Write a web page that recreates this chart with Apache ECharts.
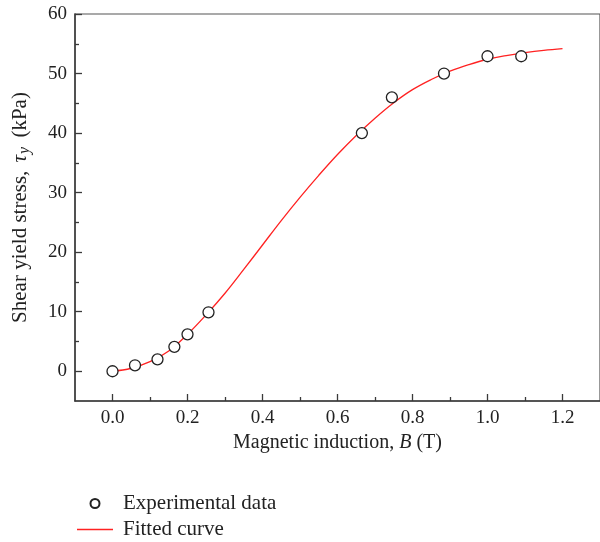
<!DOCTYPE html>
<html>
<head>
<meta charset="utf-8">
<script src="https://cdn.jsdelivr.net/npm/echarts@6/dist/echarts.min.js"></script>
<style>
  html, body { margin: 0; padding: 0; background: #fff; }
  #chart { width: 600px; height: 542px; }
</style>
</head>
<body>
<div id="chart"></div>
<script>
// Measured shear yield stress versus magnetic induction
var measuredB = [0.0, 0.06, 0.12, 0.165, 0.2, 0.256, 0.665, 0.745, 0.884, 1.0, 1.09];
var measuredTau = [0.0, 1.0, 2.0, 4.1, 6.2, 9.9, 40.0, 46.0, 50.0, 52.9, 52.9];

// Fitted curve sampled along B
var fitB = [0.0, 0.05, 0.1, 0.15, 0.2, 0.25, 0.3, 0.35, 0.4, 0.45, 0.5, 0.55, 0.6,
            0.65, 0.7, 0.75, 0.8, 0.85, 0.9, 0.95, 1.0, 1.05, 1.1, 1.15, 1.2];
var fitTau = [0.0, 0.5, 1.6, 3.4, 6.2, 9.5, 13.1, 17.1, 21.2, 25.3, 29.2, 32.9, 36.4,
              39.6, 42.5, 45.1, 47.3, 49.0, 50.4, 51.5, 52.4, 53.0, 53.5, 53.9, 54.2];

// Tick positions
var xMajorTicks = [0.0, 0.2, 0.4, 0.6, 0.8, 1.0, 1.2];
var xMinorTicks = [0.1, 0.3, 0.5, 0.7, 0.9, 1.1];
var yMajorTicks = [0, 10, 20, 30, 40, 50, 60];
var yMinorTicks = [5, 15, 25, 35, 45, 55];

var seriesNames = ['Experimental data', 'Fitted curve'];

var FONT = 'Liberation Serif';
var INK = '#222';
var AXIS = '#3a3a3a';
var CURVE = '#f22';

function pairs(xs, ys) {
  return xs.map(function (x, i) { return [x, ys[i]]; });
}

var chart = echarts.init(document.getElementById('chart'), null, { renderer: 'canvas' });

var option = {
  animation: false,
  backgroundColor: '#fff',
  textStyle: { fontFamily: FONT, color: INK },
  grid: {
    left: 75, top: 14, width: 529, height: 387,
    show: true, borderColor: '#555', borderWidth: 1.2, backgroundColor: 'transparent'
  },
  legend: {
    data: [
      { name: seriesNames[0], icon: 'circle' },
      { name: seriesNames[1], icon: 'path://M0,0 L36,0 L36,1.3 L0,1.3 Z' }
    ],
    orient: 'vertical',
    left: 77, top: 493, padding: 0,
    itemWidth: 36, itemHeight: 9, itemGap: 5,
    symbolKeepAspect: true,
    textStyle: { fontFamily: FONT, fontSize: 21, color: INK, lineHeight: 21, padding: [0, 0, 0, 5] }
  },
  xAxis: [{
    type: 'value', min: -0.1, max: 1.3,
    name: '{n|Magnetic induction, }{i|B}{n| (T)}',
    nameLocation: 'middle', nameGap: 16,
    nameTextStyle: {
      rich: {
        n: { fontFamily: FONT, fontSize: 20, color: INK },
        i: { fontFamily: FONT, fontSize: 20, color: INK, fontStyle: 'italic' }
      }
    },
    axisLine: { show: true, onZero: false, lineStyle: { color: AXIS, width: 1.5 } },
    axisTick: { show: true, inside: true, length: 7, customValues: xMajorTicks, lineStyle: { color: AXIS, width: 1.3 } },
    axisLabel: {
      show: true, margin: 8, customValues: xMajorTicks,
      fontFamily: FONT, fontSize: 19, color: INK,
      formatter: function (v) { return v.toFixed(1); }
    },
    splitLine: { show: false }
  }, {
    type: 'value', min: -0.1, max: 1.3, position: 'bottom',
    axisLine: { show: false, onZero: false },
    axisTick: { show: true, inside: true, length: 4, customValues: xMinorTicks, lineStyle: { color: AXIS, width: 1.3 } },
    axisLabel: { show: false },
    splitLine: { show: false }
  }],
  yAxis: [{
    type: 'value', min: -5, max: 60,
    name: '{n|Shear yield stress, }{i|τ}{s|y}{n| (kPa)}',
    nameLocation: 'middle', nameGap: 42, nameRotate: 90,
    nameTextStyle: {
      rich: {
        n: { fontFamily: FONT, fontSize: 21, color: INK },
        i: { fontFamily: FONT, fontSize: 21, color: INK, fontStyle: 'italic', padding: [0, 0, 0, 3] },
        s: { fontFamily: FONT, fontSize: 16, color: INK, fontStyle: 'italic', padding: [10, 4, 0, 1] }
      }
    },
    axisLine: { show: true, onZero: false, lineStyle: { color: AXIS, width: 1.5 } },
    axisTick: { show: true, inside: true, length: 7, customValues: yMajorTicks, lineStyle: { color: AXIS, width: 1.3 } },
    axisLabel: {
      show: true, margin: 8, customValues: yMajorTicks,
      fontFamily: FONT, fontSize: 19, color: INK
    },
    splitLine: { show: false }
  }, {
    type: 'value', min: -5, max: 60, position: 'left',
    axisLine: { show: false, onZero: false },
    axisTick: { show: true, inside: true, length: 4, customValues: yMinorTicks, lineStyle: { color: AXIS, width: 1.3 } },
    axisLabel: { show: false },
    splitLine: { show: false }
  }],
  series: [{
    name: seriesNames[0],
    type: 'scatter',
    xAxisIndex: 0, yAxisIndex: 0,
    data: pairs(measuredB, measuredTau),
    symbol: 'circle', symbolSize: 11,
    itemStyle: { color: '#fff', borderColor: INK, borderWidth: 1.3, opacity: 1 },
    z: 3
  }, {
    name: seriesNames[1],
    type: 'line',
    xAxisIndex: 0, yAxisIndex: 0,
    data: pairs(fitB, fitTau),
    smooth: 0.4,
    symbol: 'none',
    lineStyle: { color: CURVE, width: 1.3 },
    itemStyle: { color: CURVE },
    z: 2
  }]
};

chart.setOption(option);
</script>
</body>
</html>
